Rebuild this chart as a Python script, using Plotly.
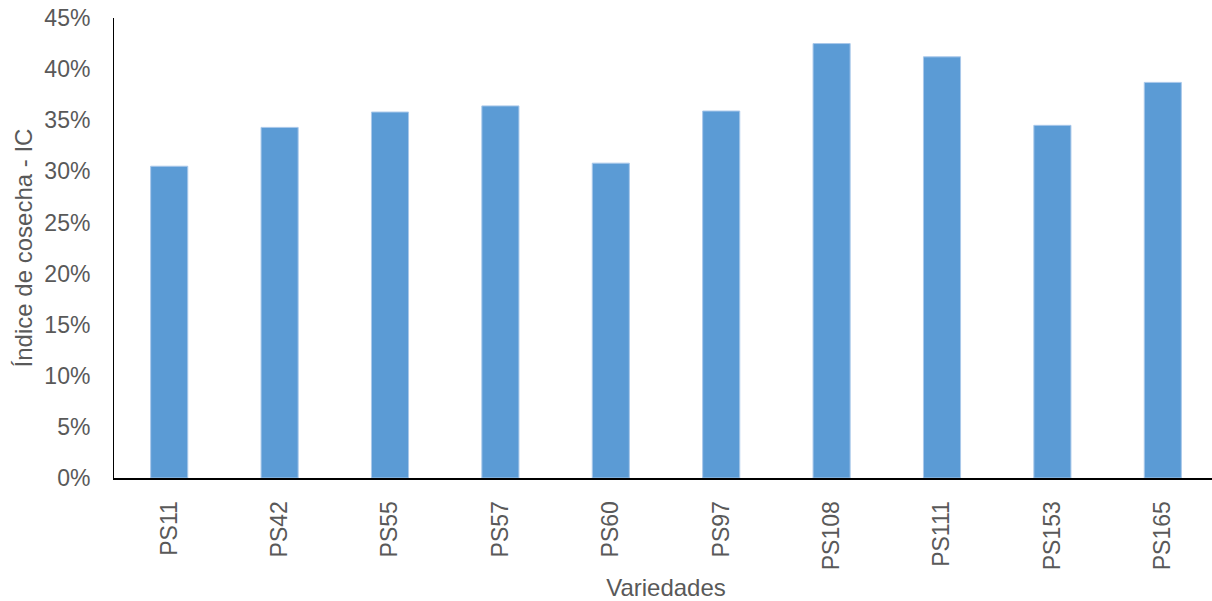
import plotly.graph_objects as go

categories = ["PS11", "PS42", "PS55", "PS57", "PS60", "PS97", "PS108", "PS111", "PS153", "PS165"]
ic_values = [0.305, 0.343, 0.358, 0.364, 0.308, 0.359, 0.425, 0.412, 0.345, 0.387]
y_ticks = [0, 0.05, 0.10, 0.15, 0.20, 0.25, 0.30, 0.35, 0.40, 0.45]

fig = go.Figure()
fig.add_trace(go.Bar(
    x=categories, y=ic_values,
    marker=dict(color="#5B9BD5", line=dict(color="#A9C8EA", width=1)),
    width=0.336,
))

tick_font = dict(family="Liberation Sans, Arial, sans-serif", size=23, color="#595959")
title_font = dict(family="Liberation Sans, Arial, sans-serif", size=24, color="#595959")
fig.update_layout(
    width=1218, height=601,
    margin=dict(l=114, r=0, t=18, b=123),
    plot_bgcolor="white", paper_bgcolor="white",
    font=tick_font,
    showlegend=False,
    xaxis=dict(
        tickangle=-90, showline=True, linecolor="black", linewidth=2,
        ticks="", showgrid=False, automargin=False,
        ticklabelstandoff=12,
        title=dict(text="Variedades", standoff=12, font=title_font),
        tickfont=tick_font,
    ),
    yaxis=dict(
        range=[0, 0.45], tickvals=y_ticks, tickformat=".0%",
        showline=True, linecolor="black", linewidth=1, ticks="",
        showgrid=False, zeroline=False, automargin=False,
        ticklabelstandoff=18,
        title=dict(text="Índice de cosecha - IC", standoff=4, font=title_font),
        tickfont=tick_font,
    ),
)
fig.write_html(
    "out.html",
    config={"displayModeBar": False},
    post_script="document.body.style.margin='0';document.body.style.overflow='hidden';",
)
